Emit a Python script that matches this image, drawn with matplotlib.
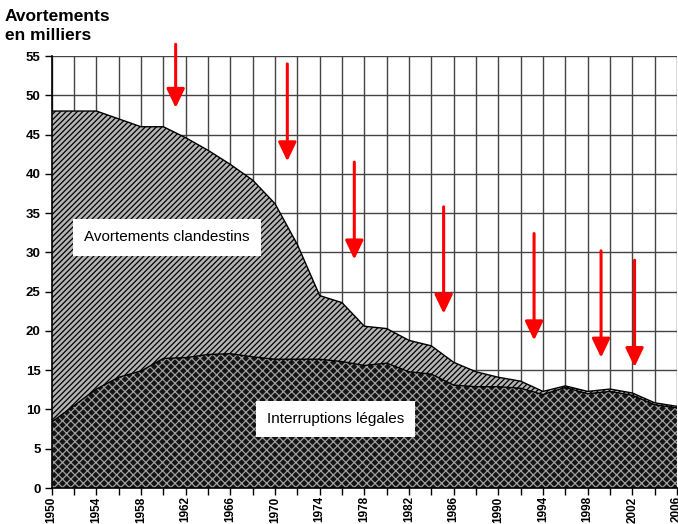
import matplotlib.pyplot as plt
import numpy as np

plt.rcParams['font.family'] = ['Liberation Sans', 'DejaVu Sans']
plt.rcParams['hatch.linewidth'] = 0.9

years = list(range(1950, 2007, 2))
total = [48, 48, 48, 47.0, 46, 46, 44.6, 43, 41.2, 39.2, 36.2, 31, 24.5, 23.6, 20.6,
         20.3, 18.8, 18.1, 16.0, 14.8, 14.1, 13.6, 12.3, 13.0, 12.3, 12.6, 12.1, 10.85, 10.4]
legal = [8.4, 10.5, 12.6, 14.1, 14.9, 16.5, 16.6, 17.0, 17.1, 16.7, 16.4, 16.4, 16.4, 16.1, 15.6,
         15.9, 14.8, 14.5, 13.1, 12.9, 12.9, 12.7, 11.9, 12.8, 12.0, 12.3, 11.8, 10.6, 10.2]

# arrows: year, start, end (thousands)
arrow_x = [1961.1, 1971.1, 1977.1, 1985.1, 1993.2, 1999.2, 2002.2]
arrow_top = [56.5, 54.0, 41.5, 35.8, 32.4, 30.2, 29.0]
arrow_tip = [48.4, 41.6, 29.1, 22.2, 18.8, 16.6, 15.4]

fig = plt.figure(figsize=(6.78, 5.24), dpi=100)
ax = fig.add_axes([0.0763, 0.0687, 0.9222, 0.8243])

ax.fill_between(years, legal, total, facecolor='#b4b4b4', edgecolor='black',
                hatch='//////', linewidth=0, zorder=2)
ax.fill_between(years, 0, legal, facecolor='#141414', edgecolor='#a0a0a0',
                hatch='xxxx', linewidth=0, zorder=2)
ax.plot(years, total, color='black', lw=1, zorder=3)
ax.plot(years, legal, color='black', lw=1, zorder=3)

for x, t, b in zip(arrow_x, arrow_top, arrow_tip):
    ax.annotate('', xy=(x, b), xytext=(x, t), annotation_clip=False,
                arrowprops=dict(arrowstyle='-|>,head_width=0.55,head_length=1.15',
                                mutation_scale=10, color='red', lw=2.2,
                                shrinkA=0, shrinkB=0), zorder=5)

ax.set_xlim(1950, 2006)
ax.set_ylim(0, 55)
ax.set_yticks(range(0, 56, 5))
ax.set_xticks(range(1950, 2007, 4))
ax.set_xticks(range(1950, 2007, 2), minor=True)
ax.set_axisbelow(True)
ax.grid(True, which='both', axis='x', color='#444444', lw=1)
ax.grid(True, axis='y', color='#444444', lw=1)

for lab in ax.get_xticklabels():
    lab.set_rotation(90)
    lab.set_fontweight('bold')
    lab.set_fontsize(8.5)
for lab in ax.get_yticklabels():
    lab.set_fontweight('bold')
    lab.set_fontsize(9.5)
ax.tick_params(axis='both', which='both', direction='out', length=5, width=1, pad=3)
ax.tick_params(axis='x', pad=1)

for s in ['top', 'right']:
    ax.spines[s].set_visible(False)
ax.spines['left'].set_linewidth(1.2)
ax.spines['bottom'].set_linewidth(1.2)
ax.spines['left'].set_zorder(4)
ax.spines['bottom'].set_zorder(4)

box = dict(facecolor='white', edgecolor='none', pad=8)
ax.text(1960.3, 31.9, 'Avortements clandestins', fontsize=11, ha='center', va='center',
        bbox=box, zorder=4)
ax.text(1975.4, 8.8, 'Interruptions légales', fontsize=11, ha='center', va='center',
        bbox=box, zorder=4)

fig.text(0.007, 0.983, 'Avortements\nen milliers', fontsize=12.5, fontweight='bold',
         ha='left', va='top', linespacing=1.3)

fig.savefig('out.png', dpi=100)
